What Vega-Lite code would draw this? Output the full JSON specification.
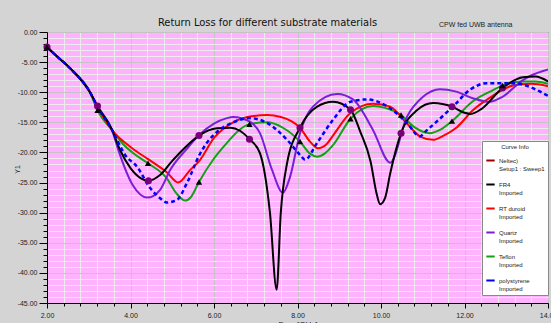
{
  "$schema": "https://vega.github.io/schema/vega-lite/v6.json",
  "width": 501,
  "height": 271,
  "autosize": "none",
  "padding": {"left": 47, "top": 32, "right": 3, "bottom": 20},
  "background": "#d4d4d4",
  "config": {
    "view": {"fill": "#ffb3ff", "stroke": "#333333", "strokeWidth": 1},
    "font": "Liberation Sans"
  },
  "title": {
    "text": "Return Loss for different substrate materials",
    "fontSize": 11,
    "fontWeight": "normal",
    "font": "DejaVu Sans Condensed, Liberation Sans",
    "color": "#111111",
    "dx": -30,
    "dy": 12,
    "offset": 4
  },
  "data": {
    "values": [
      {"s": "Teflon", "f": 2.0, "v": -2.5, "m": true},
      {"s": "Teflon", "f": 2.15, "v": -3.5},
      {"s": "Teflon", "f": 2.55, "v": -6.0},
      {"s": "Teflon", "f": 3.03, "v": -10.0},
      {"s": "Teflon", "f": 3.21, "v": -13.0, "m": true},
      {"s": "Teflon", "f": 3.56, "v": -16.3},
      {"s": "Teflon", "f": 3.82, "v": -18.6},
      {"s": "Teflon", "f": 4.1, "v": -20.3},
      {"s": "Teflon", "f": 4.42, "v": -21.8, "m": true},
      {"s": "Teflon", "f": 4.87, "v": -24.3},
      {"s": "Teflon", "f": 5.1, "v": -26.8},
      {"s": "Teflon", "f": 5.31, "v": -28.0},
      {"s": "Teflon", "f": 5.45, "v": -27.4},
      {"s": "Teflon", "f": 5.64, "v": -24.9, "m": true},
      {"s": "Teflon", "f": 6.0, "v": -21.0},
      {"s": "Teflon", "f": 6.31, "v": -18.4},
      {"s": "Teflon", "f": 6.6, "v": -16.3},
      {"s": "Teflon", "f": 6.85, "v": -15.3, "m": true},
      {"s": "Teflon", "f": 7.27, "v": -15.0},
      {"s": "Teflon", "f": 7.65, "v": -15.9},
      {"s": "Teflon", "f": 8.06, "v": -18.2, "m": true},
      {"s": "Teflon", "f": 8.3, "v": -20.2},
      {"s": "Teflon", "f": 8.47, "v": -20.7},
      {"s": "Teflon", "f": 8.65, "v": -20.2},
      {"s": "Teflon", "f": 8.85, "v": -18.8},
      {"s": "Teflon", "f": 9.27, "v": -14.4, "m": true},
      {"s": "Teflon", "f": 9.81, "v": -12.3},
      {"s": "Teflon", "f": 10.1, "v": -12.6},
      {"s": "Teflon", "f": 10.48, "v": -13.8, "m": true},
      {"s": "Teflon", "f": 10.8, "v": -15.8},
      {"s": "Teflon", "f": 11.17, "v": -16.8},
      {"s": "Teflon", "f": 11.4, "v": -16.3},
      {"s": "Teflon", "f": 11.7, "v": -14.8, "m": true},
      {"s": "Teflon", "f": 12.2, "v": -11.5},
      {"s": "Teflon", "f": 12.61, "v": -9.9},
      {"s": "Teflon", "f": 12.91, "v": -8.9, "m": true},
      {"s": "Teflon", "f": 13.4, "v": -8.2},
      {"s": "Teflon", "f": 13.7, "v": -8.2},
      {"s": "Teflon", "f": 14.0, "v": -8.6},

      {"s": "RT duroid", "f": 2.0, "v": -2.5},
      {"s": "RT duroid", "f": 2.15, "v": -3.5},
      {"s": "RT duroid", "f": 2.55, "v": -6.0},
      {"s": "RT duroid", "f": 3.03, "v": -10.0},
      {"s": "RT duroid", "f": 3.21, "v": -12.4},
      {"s": "RT duroid", "f": 3.56, "v": -16.3},
      {"s": "RT duroid", "f": 4.04, "v": -19.3},
      {"s": "RT duroid", "f": 4.42, "v": -21.1},
      {"s": "RT duroid", "f": 4.87, "v": -23.3},
      {"s": "RT duroid", "f": 5.14, "v": -25.0},
      {"s": "RT duroid", "f": 5.43, "v": -22.9},
      {"s": "RT duroid", "f": 5.66, "v": -21.3},
      {"s": "RT duroid", "f": 6.0, "v": -17.6},
      {"s": "RT duroid", "f": 6.46, "v": -15.0},
      {"s": "RT duroid", "f": 6.9, "v": -14.0},
      {"s": "RT duroid", "f": 7.27, "v": -13.8},
      {"s": "RT duroid", "f": 7.6, "v": -14.1},
      {"s": "RT duroid", "f": 8.06, "v": -15.9},
      {"s": "RT duroid", "f": 8.3, "v": -18.2},
      {"s": "RT duroid", "f": 8.49, "v": -19.3},
      {"s": "RT duroid", "f": 8.7, "v": -18.6},
      {"s": "RT duroid", "f": 8.85, "v": -17.2},
      {"s": "RT duroid", "f": 9.26, "v": -13.5},
      {"s": "RT duroid", "f": 9.81, "v": -11.9},
      {"s": "RT duroid", "f": 10.22, "v": -12.4},
      {"s": "RT duroid", "f": 10.62, "v": -15.2},
      {"s": "RT duroid", "f": 10.95, "v": -17.4},
      {"s": "RT duroid", "f": 11.25, "v": -17.9},
      {"s": "RT duroid", "f": 11.5, "v": -17.2},
      {"s": "RT duroid", "f": 11.82, "v": -15.8},
      {"s": "RT duroid", "f": 12.2, "v": -13.0},
      {"s": "RT duroid", "f": 12.61, "v": -10.9},
      {"s": "RT duroid", "f": 13.16, "v": -8.9},
      {"s": "RT duroid", "f": 13.6, "v": -8.6},
      {"s": "RT duroid", "f": 14.0, "v": -9.0},

      {"s": "Quartz", "f": 2.0, "v": -2.5},
      {"s": "Quartz", "f": 2.15, "v": -3.5},
      {"s": "Quartz", "f": 2.55, "v": -6.0},
      {"s": "Quartz", "f": 3.03, "v": -10.0},
      {"s": "Quartz", "f": 3.21, "v": -12.4},
      {"s": "Quartz", "f": 3.56, "v": -16.3},
      {"s": "Quartz", "f": 3.7, "v": -19.4},
      {"s": "Quartz", "f": 4.06, "v": -25.5},
      {"s": "Quartz", "f": 4.4, "v": -27.5},
      {"s": "Quartz", "f": 4.71, "v": -26.2},
      {"s": "Quartz", "f": 4.95, "v": -22.9},
      {"s": "Quartz", "f": 5.35, "v": -19.4},
      {"s": "Quartz", "f": 5.66, "v": -17.0},
      {"s": "Quartz", "f": 6.0, "v": -15.2},
      {"s": "Quartz", "f": 6.31, "v": -14.3},
      {"s": "Quartz", "f": 6.46, "v": -14.1},
      {"s": "Quartz", "f": 6.86, "v": -14.9},
      {"s": "Quartz", "f": 7.1, "v": -16.8},
      {"s": "Quartz", "f": 7.39, "v": -22.9},
      {"s": "Quartz", "f": 7.65, "v": -26.7},
      {"s": "Quartz", "f": 7.82, "v": -24.1},
      {"s": "Quartz", "f": 8.06, "v": -16.8},
      {"s": "Quartz", "f": 8.37, "v": -12.4},
      {"s": "Quartz", "f": 8.95, "v": -10.3},
      {"s": "Quartz", "f": 9.33, "v": -11.2},
      {"s": "Quartz", "f": 9.81, "v": -16.3},
      {"s": "Quartz", "f": 10.22, "v": -21.7},
      {"s": "Quartz", "f": 10.62, "v": -14.1},
      {"s": "Quartz", "f": 11.0, "v": -10.8},
      {"s": "Quartz", "f": 11.41, "v": -9.5},
      {"s": "Quartz", "f": 11.8, "v": -9.9},
      {"s": "Quartz", "f": 12.2, "v": -11.0},
      {"s": "Quartz", "f": 12.6, "v": -11.6},
      {"s": "Quartz", "f": 12.9, "v": -10.8},
      {"s": "Quartz", "f": 13.4, "v": -8.0},
      {"s": "Quartz", "f": 13.57, "v": -7.3},
      {"s": "Quartz", "f": 14.0, "v": -6.2},

      {"s": "FR4", "f": 2.0, "v": -2.5, "m": true},
      {"s": "FR4", "f": 2.15, "v": -3.5},
      {"s": "FR4", "f": 2.55, "v": -6.0},
      {"s": "FR4", "f": 3.03, "v": -10.0},
      {"s": "FR4", "f": 3.21, "v": -12.3, "m": true},
      {"s": "FR4", "f": 3.56, "v": -16.3},
      {"s": "FR4", "f": 3.75, "v": -19.6},
      {"s": "FR4", "f": 4.0, "v": -22.6},
      {"s": "FR4", "f": 4.25, "v": -24.3},
      {"s": "FR4", "f": 4.43, "v": -24.7, "m": true},
      {"s": "FR4", "f": 4.7, "v": -23.8},
      {"s": "FR4", "f": 5.0, "v": -21.4},
      {"s": "FR4", "f": 5.26, "v": -19.5},
      {"s": "FR4", "f": 5.64, "v": -17.2, "m": true},
      {"s": "FR4", "f": 6.07, "v": -16.0},
      {"s": "FR4", "f": 6.4, "v": -15.9},
      {"s": "FR4", "f": 6.62, "v": -16.4},
      {"s": "FR4", "f": 6.85, "v": -17.8, "m": true},
      {"s": "FR4", "f": 7.1, "v": -20.1},
      {"s": "FR4", "f": 7.34, "v": -30.0},
      {"s": "FR4", "f": 7.5, "v": -42.8},
      {"s": "FR4", "f": 7.6, "v": -30.0},
      {"s": "FR4", "f": 7.75, "v": -21.8},
      {"s": "FR4", "f": 8.06, "v": -15.9, "m": true},
      {"s": "FR4", "f": 8.47, "v": -12.4},
      {"s": "FR4", "f": 8.85, "v": -11.6},
      {"s": "FR4", "f": 9.27, "v": -12.9, "m": true},
      {"s": "FR4", "f": 9.5, "v": -16.5},
      {"s": "FR4", "f": 9.75, "v": -21.5},
      {"s": "FR4", "f": 9.9, "v": -27.0},
      {"s": "FR4", "f": 9.98, "v": -28.6},
      {"s": "FR4", "f": 10.1, "v": -27.5},
      {"s": "FR4", "f": 10.22, "v": -23.5},
      {"s": "FR4", "f": 10.48, "v": -16.8, "m": true},
      {"s": "FR4", "f": 10.86, "v": -13.0},
      {"s": "FR4", "f": 11.25, "v": -11.8},
      {"s": "FR4", "f": 11.7, "v": -12.4, "m": true},
      {"s": "FR4", "f": 12.0, "v": -13.4},
      {"s": "FR4", "f": 12.15, "v": -13.6},
      {"s": "FR4", "f": 12.4, "v": -12.8},
      {"s": "FR4", "f": 12.91, "v": -9.3, "m": true},
      {"s": "FR4", "f": 13.4, "v": -7.5},
      {"s": "FR4", "f": 13.7, "v": -7.4},
      {"s": "FR4", "f": 14.0, "v": -8.2},

      {"s": "polystyrene", "f": 2.0, "v": -2.5},
      {"s": "polystyrene", "f": 2.15, "v": -3.5},
      {"s": "polystyrene", "f": 2.55, "v": -6.0},
      {"s": "polystyrene", "f": 3.03, "v": -10.0},
      {"s": "polystyrene", "f": 3.21, "v": -12.4},
      {"s": "polystyrene", "f": 3.56, "v": -16.3},
      {"s": "polystyrene", "f": 3.87, "v": -20.4},
      {"s": "polystyrene", "f": 4.16, "v": -22.4},
      {"s": "polystyrene", "f": 4.47, "v": -25.9},
      {"s": "polystyrene", "f": 4.71, "v": -27.6},
      {"s": "polystyrene", "f": 4.87, "v": -28.3},
      {"s": "polystyrene", "f": 5.11, "v": -27.9},
      {"s": "polystyrene", "f": 5.35, "v": -25.1},
      {"s": "polystyrene", "f": 5.66, "v": -20.3},
      {"s": "polystyrene", "f": 5.83, "v": -18.4},
      {"s": "polystyrene", "f": 6.07, "v": -16.6},
      {"s": "polystyrene", "f": 6.46, "v": -15.0},
      {"s": "polystyrene", "f": 6.86, "v": -14.3},
      {"s": "polystyrene", "f": 7.27, "v": -15.1},
      {"s": "polystyrene", "f": 7.75, "v": -17.9},
      {"s": "polystyrene", "f": 8.06, "v": -20.4},
      {"s": "polystyrene", "f": 8.18, "v": -21.2},
      {"s": "polystyrene", "f": 8.47, "v": -18.4},
      {"s": "polystyrene", "f": 8.85, "v": -14.6},
      {"s": "polystyrene", "f": 9.26, "v": -11.6},
      {"s": "polystyrene", "f": 9.66, "v": -11.2},
      {"s": "polystyrene", "f": 10.14, "v": -12.3},
      {"s": "polystyrene", "f": 10.62, "v": -15.1},
      {"s": "polystyrene", "f": 10.93, "v": -17.3},
      {"s": "polystyrene", "f": 11.1, "v": -16.3},
      {"s": "polystyrene", "f": 11.72, "v": -12.4},
      {"s": "polystyrene", "f": 12.13, "v": -9.6},
      {"s": "polystyrene", "f": 12.54, "v": -8.5},
      {"s": "polystyrene", "f": 13.16, "v": -8.5},
      {"s": "polystyrene", "f": 14.0, "v": -10.6}
    ]
  },
  "encoding": {
    "y": {
      "field": "v", "type": "quantitative",
      "scale": {"domain": [-45, 0], "nice": false, "zero": false},
      "axis": {
        "title": "Y1", "titleFontSize": 7, "titleFontWeight": "normal", "titleColor": "#222",
        "titleX": -27, "titleY": 137, "titleAngle": -90,
        "values": [0, -1, -2, -3, -4, -5, -6, -7, -8, -9, -10, -11, -12, -13, -14, -15, -16, -17, -18, -19, -20, -21, -22, -23, -24, -25, -26, -27, -28, -29, -30, -31, -32, -33, -34, -35, -36, -37, -38, -39, -40, -41, -42, -43, -44, -45],
        "labelExpr": "abs(datum.value/5 - round(datum.value/5)) < 0.01 ? (datum.value < 0 ? '-' : '') + format(abs(datum.value), '.2f') : ''",
        "labelFontSize": 7, "labelColor": "#222", "labelPadding": 2, "labelFlush": false, "labelOverlap": false,
        "tickColor": "#000", "domainColor": "#000",
        "tickSize": {"condition": {"test": "abs(datum.value/5 - round(datum.value/5)) < 0.01", "value": 8}, "value": 4},
        "gridColor": {"condition": {"test": "abs(datum.value/5 - round(datum.value/5)) < 0.01", "value": "#c4c4c4"}, "value": "#ececec"},
        "gridOpacity": 1, "gridWidth": 1
      }
    }
  },
  "resolve": {"axis": {"x": "independent"}},
  "layer": [
    {
      "transform": [{"filter": "datum.s !== 'polystyrene'"}],
      "mark": {"type": "line", "strokeWidth": 2, "interpolate": "monotone", "clip": true},
      "encoding": {
        "x": {
          "field": "f", "type": "quantitative",
          "scale": {"domain": [2, 14], "nice": false, "zero": false},
          "axis": {
            "title": "Freq [GHz]",
            "titleFontSize": 8, "titleFontWeight": "normal", "titlePadding": 2, "titleColor": "#222",
            "values": [2, 2.4, 2.8, 3.2, 3.6, 4, 4.4, 4.8, 5.2, 5.6, 6, 6.4, 6.8, 7.2, 7.6, 8, 8.4, 8.8, 9.2, 9.6, 10, 10.4, 10.8, 11.2, 11.6, 12, 12.4, 12.8, 13.2, 13.6, 14],
            "labelExpr": "abs(datum.value/2 - round(datum.value/2)) < 0.01 ? format(datum.value, '.2f') : ''",
            "labelFontSize": 7, "labelColor": "#222", "labelPadding": 3, "labelFlush": false, "labelOverlap": false,
            "tickColor": "#000", "domainColor": "#000",
            "tickSize": {"condition": {"test": "abs(datum.value/2 - round(datum.value/2)) < 0.01", "value": 5}, "value": 3},
            "gridColor": {"condition": {"test": "abs(datum.value/2 - round(datum.value/2)) < 0.01", "value": "#c4c4c4"}, "value": "#ececec"},
            "gridOpacity": 1, "gridWidth": 1
          }
        },
        "color": {
          "field": "s", "type": "nominal",
          "scale": {
            "domain": ["Neltec)", "FR4", "RT duroid", "Quartz", "Teflon", "polystyrene"],
            "range": ["#9a0000", "#000000", "#ff0000", "#7a1fd6", "#13a013", "#0000ff"]
          },
          "legend": {
            "orient": "none", "legendX": 435, "legendY": 109,
            "title": "Curve Info", "titleFontSize": 6, "titleFontWeight": "normal", "titleAnchor": "middle", "titleColor": "#222",
            "labelFontSize": 6, "labelColor": "#222", "labelLimit": 50, "labelOffset": 3,
            "labelExpr": "datum.label === 'Neltec)' ? ['Neltec)', 'Setup1 : Sweep1'] : [datum.label, 'Imported']",
            "symbolType": "stroke", "symbolStrokeWidth": 2, "symbolSize": 70,
            "fillColor": "#ffffff", "strokeColor": "#888888", "padding": 3, "rowPadding": 7
          }
        }
      }
    },
    {
      "transform": [{"filter": "datum.s === 'polystyrene'"}],
      "mark": {"type": "line", "strokeWidth": 2.5, "strokeDash": [4, 3], "interpolate": "monotone", "clip": true},
      "encoding": {
        "x": {"field": "f", "type": "quantitative", "axis": null},
        "color": {"field": "s", "type": "nominal"}
      }
    },
    {
      "transform": [{"filter": "datum.m === true && datum.s === 'FR4'"}],
      "mark": {"type": "point", "shape": "circle", "filled": true, "size": 50, "color": "#7a007a", "opacity": 1},
      "encoding": {
        "x": {"field": "f", "type": "quantitative", "axis": null}
      }
    },
    {
      "transform": [{"filter": "datum.m === true && datum.s === 'Teflon'"}],
      "mark": {"type": "point", "shape": "triangle-up", "filled": true, "size": 40, "color": "#000000", "opacity": 1},
      "encoding": {
        "x": {
          "field": "f", "type": "quantitative",
          "axis": {
            "orient": "top", "title": "CPW fed UWB antenna", "titleFontSize": 7, "titleFontWeight": "normal",
            "titleColor": "#222", "titleX": 465, "titleY": -6, "titleAlign": "right", "titleBaseline": "alphabetic",
            "labels": false, "ticks": false, "domain": false, "grid": false
          }
        }
      }
    }
  ]
}
